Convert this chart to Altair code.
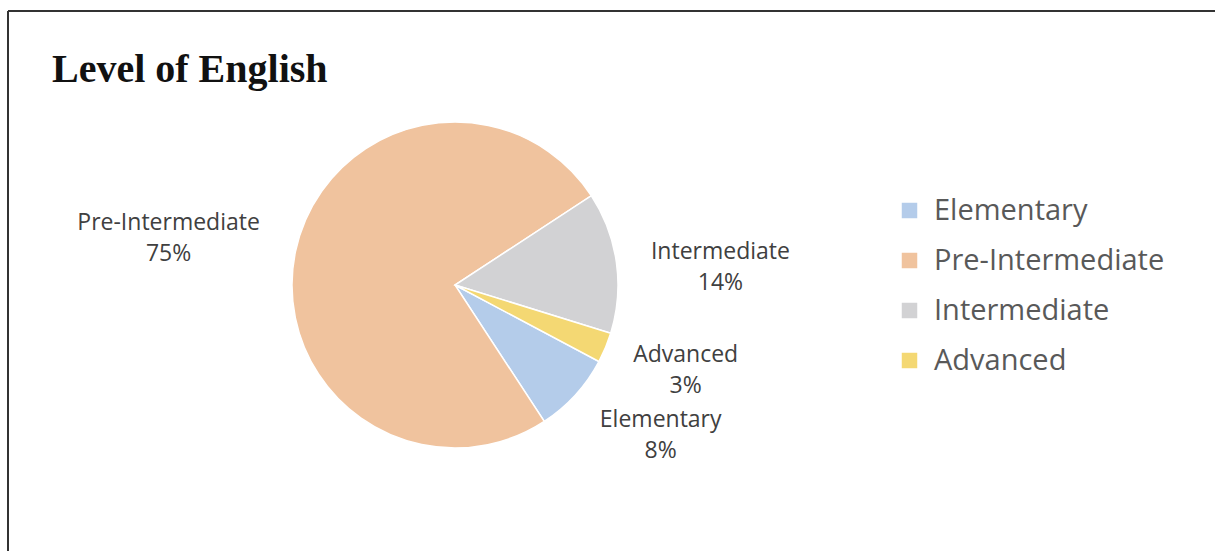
import math
import altair as alt
import pandas as pd

# ---- data ----
categories = ["Elementary", "Pre-Intermediate", "Intermediate", "Advanced"]
values = [8, 75, 14, 3]
colors = ["#B4CCEA", "#F0C39E", "#D2D2D4", "#F4D873"]
TITLE = "Level of English"

df = pd.DataFrame({"category": categories, "value": values, "idx": list(range(len(categories)))})

W, H = 1215, 551
CX, CY, R = 455, 285, 163
START = math.radians(118)

theta = alt.Theta("value:Q", stack=True,
                  scale=alt.Scale(range=[START, START + 2 * math.pi]))
color = alt.Color(
    "category:N",
    scale=alt.Scale(domain=categories, range=colors),
    sort=categories,
    legend=alt.Legend(
        title=None, orient="none", legendX=895, legendY=196,
        symbolType="square", symbolSize=240, symbolStrokeWidth=0,
        labelFontSize=29, labelFont="Open Sans", labelColor="#595959",
        labelOffset=10, rowPadding=20, labelLimit=400,
    ),
)

base = alt.Chart(df).encode(
    theta=theta,
    order=alt.Order("idx:Q"),
    x=alt.value(CX),
    y=alt.value(CY),
)

pie = base.mark_arc(radius=R, stroke="white", strokeWidth=1.5).encode(color=color)

# label offsets (style) per category
offsets = {
    "Elementary": (10, -44),
    "Pre-Intermediate": (-27, -8),
    "Intermediate": (3, 4),
    "Advanced": (-14, -32),
}
label_layers = []
for cat in categories:
    dx, dy = offsets[cat]
    lay = base.mark_text(
        radius=265, dx=dx, dy=dy, fontSize=23, font="Open Sans", color="#404040",
        lineBreak="\n", lineHeight=31, align="center", baseline="middle",
    ).transform_calculate(
        label="datum.category + '\\n' + datum.value + '%'"
    ).encode(
        text=alt.condition(alt.datum.category == cat, "label:N", alt.value(""))
    )
    label_layers.append(lay)

one = alt.Data(values=[{}])
title = alt.Chart(one).mark_text(
    text=TITLE, font="Liberation Serif", fontWeight="bold", fontSize=40,
    color="#111111", align="left", baseline="alphabetic",
).encode(x=alt.value(52), y=alt.value(82))

frame_left = alt.Chart(one).mark_rule(color="#333333", strokeWidth=2).encode(
    x=alt.value(8), y=alt.value(11), y2=alt.value(H))
frame_top = alt.Chart(one).mark_rule(color="#333333", strokeWidth=2).encode(
    x=alt.value(8), x2=alt.value(W), y=alt.value(11))

chart = alt.layer(pie, *label_layers, title, frame_left, frame_top).properties(
    width=W, height=H, padding=0,
    autosize=alt.AutoSizeParams(type="none"),
    background="white",
).configure_view(stroke=None)

chart.save("out.html", embed_options={"renderer": "svg", "actions": False})
